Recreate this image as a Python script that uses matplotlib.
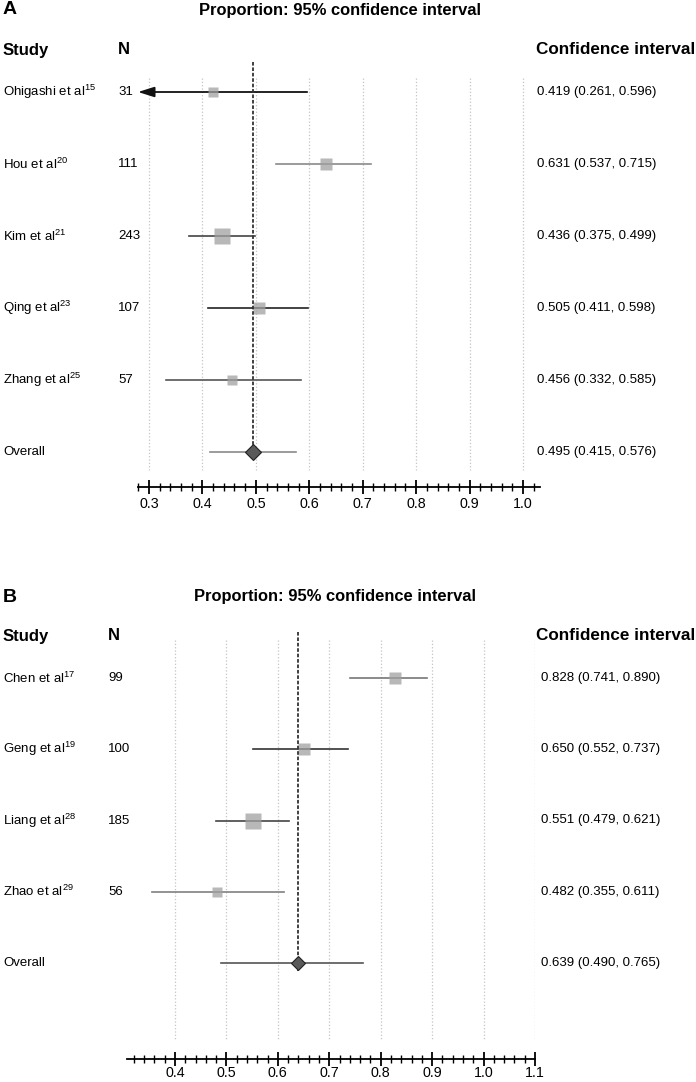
import numpy as np
import matplotlib
matplotlib.use("Agg")
import matplotlib.pyplot as plt
from matplotlib.transforms import blended_transform_factory

plt.rcParams["font.family"] = ["Liberation Sans", "DejaVu Sans"]
plt.rcParams["mathtext.fontset"] = "custom"
plt.rcParams["mathtext.rm"] = "Liberation Sans"

# panel A data
studies_a = ["Ohigashi et al", "Hou et al", "Kim et al", "Qing et al", "Zhang et al"]
refs_a = ["15", "20", "21", "23", "25"]
n_a = [31, 111, 243, 107, 57]
est_a = [0.419, 0.631, 0.436, 0.505, 0.456]
lo_a = [0.261, 0.537, 0.375, 0.411, 0.332]
hi_a = [0.596, 0.715, 0.499, 0.598, 0.585]
overall_a = (0.495, 0.415, 0.576)

# panel B data
studies_b = ["Chen et al", "Geng et al", "Liang et al", "Zhao et al"]
refs_b = ["17", "19", "28", "29"]
n_b = [99, 100, 185, 56]
est_b = [0.828, 0.650, 0.551, 0.482]
lo_b = [0.741, 0.552, 0.479, 0.355]
hi_b = [0.890, 0.737, 0.621, 0.611]
overall_b = (0.639, 0.490, 0.765)

W, H = 696, 1082
fig = plt.figure(figsize=(W / 100, H / 100), dpi=100)


def fx(px):
    return px / W


def fy(py):
    return 1 - py / H


def panel(letter, y0, ax_box, xlim, row0, dy, ytop, studies, refs, n, est, lo, hi, overall,
          ticks, sizes, lcols, ocol, n_x, ci_x, title_x, grid_rng, ref_rng, dsize, tpad):
    left, right, top, bottom = ax_box
    ax = fig.add_axes([fx(left), fy(bottom), fx(right - left), (bottom - top) / H])
    ax.set_xlim(*xlim)
    ax.set_ylim((bottom - row0) / dy, (top - row0) / dy)
    for s in ["left", "right", "top"]:
        ax.spines[s].set_visible(False)
    ax.spines["bottom"].set_linewidth(1.3)
    ax.set_yticks([])
    ax.set_xticks(ticks)
    ax.set_xticklabels(["%.1f" % t for t in ticks], fontsize=10.3)
    ax.set_xticks(np.arange(xlim[0] - xlim[0] % 0.02 + 0.02, xlim[1] + 1e-6, 0.02), minor=True)
    ax.tick_params(axis="x", which="major", direction="inout", length=10, width=1.3, pad=tpad)
    ax.tick_params(axis="x", which="minor", direction="inout", length=6, width=1.0)
    ax.patch.set_alpha(0)

    rows = np.arange(len(studies))
    orow = len(studies)
    ax.vlines(ticks, grid_rng[0], grid_rng[1], colors="#c4c4c4", linestyles=":", lw=0.9, zorder=1)
    ax.vlines(overall[0], ref_rng[0], ref_rng[1], colors="#333333",
              linestyles=(0, (2, 1)), lw=1.3, zorder=5)

    for i in rows:
        if lo[i] < xlim[0]:
            ax.annotate("", xy=(xlim[0], i), xytext=(hi[i], i),
                        arrowprops=dict(arrowstyle="-|>,head_length=0.7,head_width=0.22",
                                        color=lcols[i], lw=1.3, shrinkA=0, shrinkB=0,
                                        mutation_scale=14),
                        annotation_clip=False, zorder=3)
        else:
            ax.plot([lo[i], hi[i]], [i, i], color=lcols[i], lw=1.2, zorder=3)
        ax.plot(est[i], i, marker="s", ms=sizes[i], color="#a0a0a0", alpha=0.75,
                mec="none", zorder=4)

    ax.plot([overall[1], overall[2]], [orow, orow], color=ocol, lw=1.2, zorder=3)
    ax.plot(overall[0], orow, marker="D", ms=dsize, mfc="#5a5a5a", mec="#222222",
            mew=0.8, zorder=6)

    tr = blended_transform_factory(fig.transFigure, ax.transData)
    for i in rows:
        ax.text(fx(3), i, "%s$^{\\mathregular{%s}}$" % (studies[i], refs[i]), transform=tr,
                fontsize=9.5, va="center", ha="left")
        ax.text(fx(n_x), i, str(n[i]), transform=tr, fontsize=9.5, va="center", ha="left")
        ax.text(fx(ci_x), i, "%.3f (%.3f, %.3f)" % (est[i], lo[i], hi[i]), transform=tr,
                fontsize=9.5, va="center", ha="left")
    ax.text(fx(3), orow, "Overall", transform=tr, fontsize=9.5, va="center", ha="left")
    ax.text(fx(ci_x), orow, "%.3f (%.3f, %.3f)" % overall, transform=tr,
            fontsize=9.5, va="center", ha="left")

    fig.text(fx(3), fy(y0), letter, fontsize=14, fontweight="bold", va="center", ha="left")
    fig.text(fx(title_x), fy(y0), "Proportion: 95% confidence interval", fontsize=11.9,
             fontweight="bold", va="center", ha="center")
    fig.text(fx(3), fy(ytop), "Study", fontsize=12, fontweight="bold", va="center", ha="left")
    fig.text(fx(n_x), fy(ytop), "N", fontsize=12, fontweight="bold", va="center", ha="left")
    fig.text(fx(695), fy(ytop), "Confidence interval", fontsize=12.3, fontweight="bold",
             va="center", ha="right")
    return ax


dy_a = 72.0
panel("A", 10, (138, 540, 62, 487), (0.2794, 1.0318), 92, dy_a, 50,
      studies_a, refs_a, n_a, est_a, lo_a, hi_a, overall_a,
      [0.3, 0.4, 0.5, 0.6, 0.7, 0.8, 0.9, 1.0],
      [7.2, 8.6, 12.2, 8.0, 7.8], ["#111111", "#8a8a8a", "#444444", "#222222", "#555555"],
      "#8a8a8a", 118, 537, 340, ((78 - 92) / dy_a, (470 - 92) / dy_a),
      (-0.42, (457 - 92) / dy_a), 8.2, 2)

dy_b = 71.25
panel("B", 597, (127, 535, 632, 1059), (0.3067, 1.1), 678, dy_b, 636,
      studies_b, refs_b, n_b, est_b, lo_b, hi_b, overall_b,
      [0.4, 0.5, 0.6, 0.7, 0.8, 0.9, 1.0, 1.1],
      [8.6, 8.6, 12.2, 7.8], ["#777777", "#333333", "#444444", "#808080"],
      "#555555", 108, 541, 335, ((640 - 678) / dy_b, (1040 - 678) / dy_b),
      ((632 - 678) / dy_b, (971 - 678) / dy_b), 7.6, 0)

fig.savefig("out.png", dpi=100)
